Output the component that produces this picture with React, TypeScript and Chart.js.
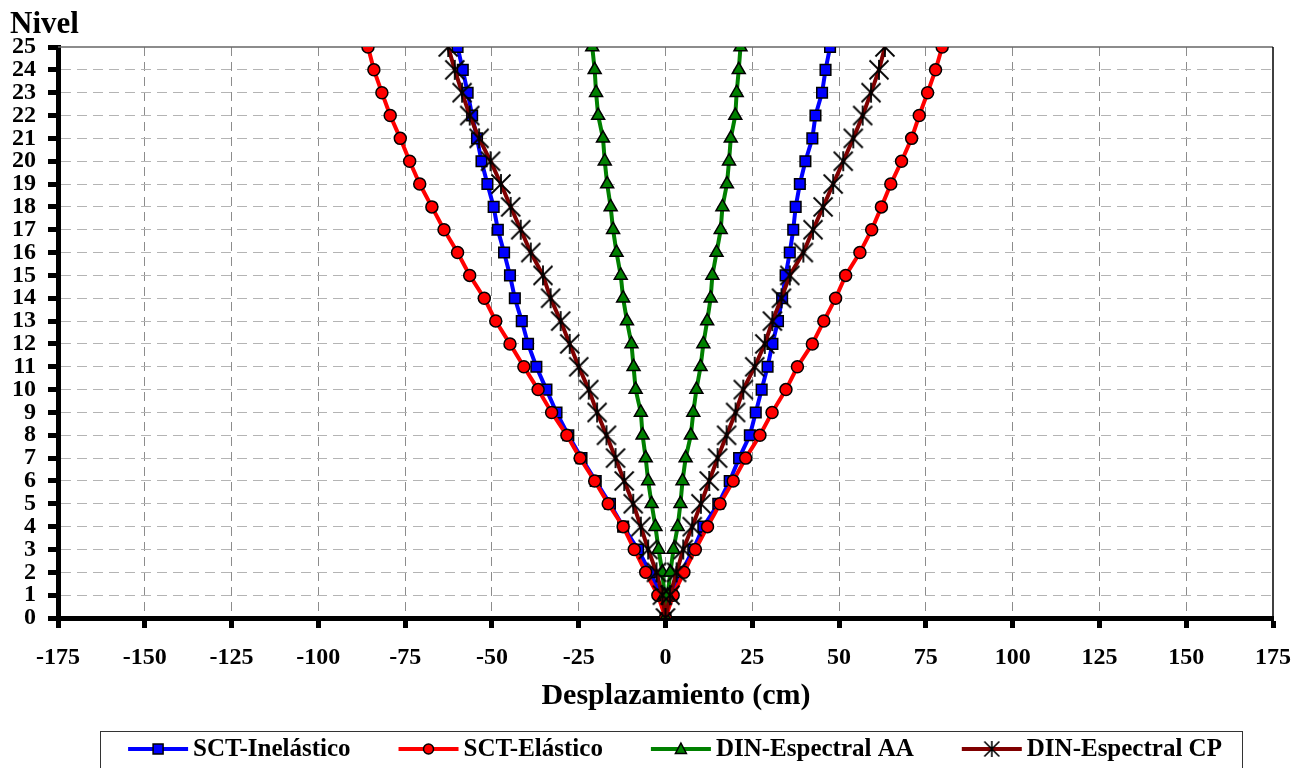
import React, { useEffect, useRef } from "react";
import { Chart, registerables } from "chart.js";

Chart.register(...registerables);

// ---- Data (levels 0..25) ----
const LEVELS = [0, 1, 2, 3, 4, 5, 6, 7, 8, 9, 10, 11, 12, 13, 14, 15, 16, 17, 18, 19, 20, 21, 22, 23, 24, 25];
const X_TICKS = [-175, -150, -125, -100, -75, -50, -25, 0, 25, 50, 75, 100, 125, 150, 175];

const SERIES_NAMES = ["SCT-Inelástico", "SCT-Elástico", "DIN-Espectral AA", "DIN-Espectral CP"];

const INEL_LEFT = [0, -1.2, -4.5, -7.9, -12.2, -16.0, -20.1, -24.2, -28.0, -31.4, -34.3, -37.2, -39.6, -41.4, -43.4, -44.8, -46.5, -48.3, -49.5, -51.3, -53.0, -54.3, -55.7, -57.0, -58.4, -59.9];
const INEL_RIGHT = [0, 1.7, 4.6, 8.0, 10.9, 15.2, 18.5, 21.2, 24.3, 26.0, 27.7, 29.4, 30.8, 32.4, 33.6, 34.6, 35.8, 36.8, 37.5, 38.7, 40.3, 42.3, 43.2, 45.1, 46.1, 47.4];

const ELAS_LEFT = [0, -2.2, -5.7, -9.0, -12.2, -16.5, -20.4, -24.6, -28.4, -32.8, -36.7, -40.8, -44.8, -48.9, -52.2, -56.4, -59.9, -63.8, -67.3, -70.8, -73.7, -76.4, -79.3, -81.7, -84.0, -85.7];
const ELAS_RIGHT = [0, 2.2, 5.3, 8.6, 12.1, 15.7, 19.5, 23.1, 27.2, 30.7, 34.7, 38.0, 42.3, 45.6, 49.0, 51.9, 56.0, 59.4, 62.2, 64.9, 68.0, 70.9, 73.1, 75.5, 77.8, 79.7];

const AA_LEFT = [0, -0.3, -0.9, -2.0, -2.9, -4.0, -5.0, -5.7, -6.6, -7.1, -8.6, -9.2, -9.8, -11.1, -12.2, -12.9, -14.1, -15.1, -15.8, -16.8, -17.5, -18.0, -19.4, -20.0, -20.4, -21.1];
const AA_RIGHT = [0, 0.6, 1.4, 2.3, 3.5, 4.3, 4.9, 5.8, 7.3, 8.0, 8.9, 10.1, 10.9, 12.0, 13.0, 13.5, 14.7, 15.9, 16.4, 17.7, 18.3, 18.8, 20.1, 20.5, 21.1, 21.6];

const CP_LEFT = [0, -0.9, -2.6, -5.0, -7.1, -9.3, -11.9, -14.4, -17.0, -19.7, -22.1, -25.0, -27.6, -30.2, -33.1, -35.3, -38.8, -41.7, -44.6, -47.4, -50.4, -53.7, -56.4, -58.6, -60.7, -62.6];
const CP_RIGHT = [0, 1.3, 3.2, 5.1, 7.7, 10.2, 12.6, 15.0, 17.6, 20.2, 22.4, 25.7, 28.6, 30.8, 33.4, 35.8, 39.7, 42.5, 45.4, 48.3, 51.2, 54.1, 56.8, 59.2, 61.5, 63.2];

const FONT_FAMILY = '"Liberation Serif", "Times New Roman", serif';

function buildPath(left: number[], right: number[]) {
  const pts: { x: number; y: number }[] = [];
  for (let i = LEVELS.length - 1; i >= 0; i--) pts.push({ x: left[i], y: LEVELS[i] });
  for (let i = 1; i < LEVELS.length; i++) pts.push({ x: right[i], y: LEVELS[i] });
  return pts;
}

function makeStar(size: number, lw: number) {
  const c = document.createElement("canvas");
  c.width = size;
  c.height = size;
  const g = c.getContext("2d")!;
  g.strokeStyle = "#000";
  g.lineWidth = lw;
  const m = 1.5;
  g.beginPath();
  g.moveTo(m, m);
  g.lineTo(size - m, size - m);
  g.moveTo(size - m, m);
  g.lineTo(m, size - m);
  g.moveTo(size / 2, 1);
  g.lineTo(size / 2, size - 1);
  g.stroke();
  return c;
}

export default function App() {
  const ref = useRef<HTMLCanvasElement | null>(null);

  useEffect(() => {
    document.body.style.margin = "0";
    const canvas = ref.current;
    if (!canvas) return;

    const star = makeStar(22, 1.8);
    const legendStar = makeStar(18, 1.6);

    const datasets: any[] = [
      {
        label: SERIES_NAMES[0],
        data: buildPath(INEL_LEFT, INEL_RIGHT),
        borderColor: "#0000FF",
        backgroundColor: "#0000FF",
        borderWidth: 4,
        pointStyle: "rect",
        pointRadius: 7.5,
        pointBorderColor: "#000",
        pointBorderWidth: 1.5,
        pointBackgroundColor: "#0000FF",
        showLine: true,
        order: 4,
      },
      {
        label: SERIES_NAMES[1],
        data: buildPath(ELAS_LEFT, ELAS_RIGHT),
        borderColor: "#FF0000",
        backgroundColor: "#FF0000",
        borderWidth: 4,
        pointStyle: "circle",
        pointRadius: 6,
        pointBorderColor: "#000",
        pointBorderWidth: 1.5,
        pointBackgroundColor: "#FF0000",
        showLine: true,
        order: 3,
      },
      {
        label: SERIES_NAMES[2],
        data: buildPath(AA_LEFT, AA_RIGHT),
        borderColor: "#008000",
        backgroundColor: "#008000",
        borderWidth: 4,
        pointStyle: "triangle",
        pointRadius: 7.5,
        pointBorderColor: "#000",
        pointBorderWidth: 1.5,
        pointBackgroundColor: "#008000",
        showLine: true,
        order: 2,
      },
      {
        label: SERIES_NAMES[3],
        data: buildPath(CP_LEFT, CP_RIGHT),
        borderColor: "#800000",
        backgroundColor: "#800000",
        borderWidth: 4,
        pointStyle: star,
        pointRadius: 11,
        showLine: true,
        order: 1,
      },
    ];

    const framePlugin = {
      id: "frame",
      beforeDatasetsDraw(chart: any) {
        const { ctx, chartArea } = chart;
        ctx.save();
        ctx.lineWidth = 1.5;
        ctx.strokeStyle = "#666";
        ctx.beginPath();
        ctx.moveTo(chartArea.left, chartArea.top);
        ctx.lineTo(chartArea.right, chartArea.top);
        ctx.stroke();
        ctx.strokeStyle = "#000";
        ctx.beginPath();
        ctx.moveTo(chartArea.right, chartArea.top);
        ctx.lineTo(chartArea.right, chartArea.bottom);
        ctx.stroke();
        ctx.restore();
      },
    };

    const textPlugin = {
      id: "texts",
      afterDraw(chart: any) {
        const { ctx } = chart;
        ctx.save();
        ctx.fillStyle = "#000";
        ctx.font = `bold 31px ${FONT_FAMILY}`;
        ctx.textAlign = "left";
        ctx.textBaseline = "alphabetic";
        ctx.fillText("Nivel", 10, 33);
        ctx.font = `bold 30px ${FONT_FAMILY}`;
        ctx.textAlign = "center";
        ctx.textBaseline = "middle";
        ctx.fillText("Desplazamiento (cm)", 676, 696);
        ctx.restore();
      },
    };

    const legendPlugin = {
      id: "boxLegend",
      afterDraw(chart: any) {
        const { ctx } = chart;
        const boxL = 100, boxR = 1242, boxT = 731;
        const cy = 749;
        const lineLen = 60, gap = 5, itemGap = 48;
        ctx.save();
        ctx.strokeStyle = "#333";
        ctx.lineWidth = 1;
        ctx.strokeRect(boxL + 0.5, boxT + 0.5, boxR - boxL, 60);
        ctx.font = `bold 25px ${FONT_FAMILY}`;
        const widths = chart.data.datasets.map((d: any) => ctx.measureText(d.label).width);
        const total = widths.reduce((a: number, b: number) => a + b, 0) + chart.data.datasets.length * (lineLen + gap) + (chart.data.datasets.length - 1) * itemGap;
        let x = 675 - total / 2;
        chart.data.datasets.forEach((d: any, i: number) => {
          ctx.strokeStyle = d.borderColor;
          ctx.lineWidth = 4;
          ctx.beginPath();
          ctx.moveTo(x, cy);
          ctx.lineTo(x + lineLen, cy);
          ctx.stroke();
          const mx = x + lineLen / 2;
          ctx.fillStyle = d.pointBackgroundColor || d.borderColor;
          ctx.strokeStyle = "#000";
          ctx.lineWidth = 1.5;
          if (d.pointStyle === "rect") {
            ctx.beginPath();
            ctx.rect(mx - 5, cy - 5, 10, 10);
            ctx.fill();
            ctx.stroke();
          } else if (d.pointStyle === "circle") {
            ctx.beginPath();
            ctx.arc(mx, cy, 5, 0, Math.PI * 2);
            ctx.fill();
            ctx.stroke();
          } else if (d.pointStyle === "triangle") {
            ctx.beginPath();
            ctx.moveTo(mx, cy - 6);
            ctx.lineTo(mx + 5.5, cy + 4.5);
            ctx.lineTo(mx - 5.5, cy + 4.5);
            ctx.closePath();
            ctx.fill();
            ctx.stroke();
          } else {
            ctx.drawImage(legendStar, mx - 9, cy - 9);
          }
          ctx.fillStyle = "#000";
          ctx.textAlign = "left";
          ctx.textBaseline = "middle";
          ctx.fillText(d.label, x + lineLen + gap, cy + 1);
          x += lineLen + gap + widths[i] + itemGap;
        });
        ctx.restore();
      },
    };

    const tickFont = { family: FONT_FAMILY, size: 24, weight: "bold" as const };

    const chart = new Chart(canvas, {
      type: "scatter",
      data: { datasets },
      options: {
        responsive: false,
        animation: false,
        layout: { padding: { top: 47, right: 34, bottom: 0, left: 0 } },
        plugins: { legend: { display: false }, tooltip: { enabled: false } },
        elements: { line: { tension: 0 } },
        scales: {
          x: {
            type: "linear",
            min: X_TICKS[0],
            max: X_TICKS[X_TICKS.length - 1],
            afterBuildTicks: (s: any) => {
              s.ticks = X_TICKS.map((v) => ({ value: v }));
            },
            afterFit: (s: any) => {
              s.height = 150;
            },
            ticks: { font: tickFont, color: "#000", padding: 15, autoSkip: false, maxRotation: 0 },
            grid: {
              color: (c: any) => (c.index === 0 || c.index === X_TICKS.length - 1 ? "rgba(0,0,0,0)" : "#8c8c8c"),
              lineWidth: 1,
              tickColor: "#000",
              tickLength: 10,
              tickWidth: 5,
            },
            border: { display: true, color: "#000", width: 5, dash: [9, 6] },
          },
          y: {
            type: "linear",
            min: LEVELS[0],
            max: LEVELS[LEVELS.length - 1],
            afterBuildTicks: (s: any) => {
              s.ticks = LEVELS.map((v) => ({ value: v }));
            },
            afterFit: (s: any) => {
              s.width = 58;
            },
            ticks: { font: tickFont, color: "#000", padding: 12, autoSkip: false },
            grid: {
              color: (c: any) => (c.index === 0 || c.index === LEVELS.length - 1 ? "rgba(0,0,0,0)" : "#b4b4b4"),
              lineWidth: 1,
              tickColor: "#000",
              tickLength: 10,
              tickWidth: 5,
            },
            border: { display: true, color: "#000", width: 5, dash: [10, 6] },
          },
        },
      } as any,
      plugins: [framePlugin, textPlugin, legendPlugin],
    });

    return () => chart.destroy();
  }, []);

  return (
    <div style={{ position: "absolute", left: 0, top: 0, width: 1307, height: 768, background: "#fff" }}>
      <canvas ref={ref} width={1307} height={768} style={{ width: 1307, height: 768, display: "block" }} />
    </div>
  );
}
